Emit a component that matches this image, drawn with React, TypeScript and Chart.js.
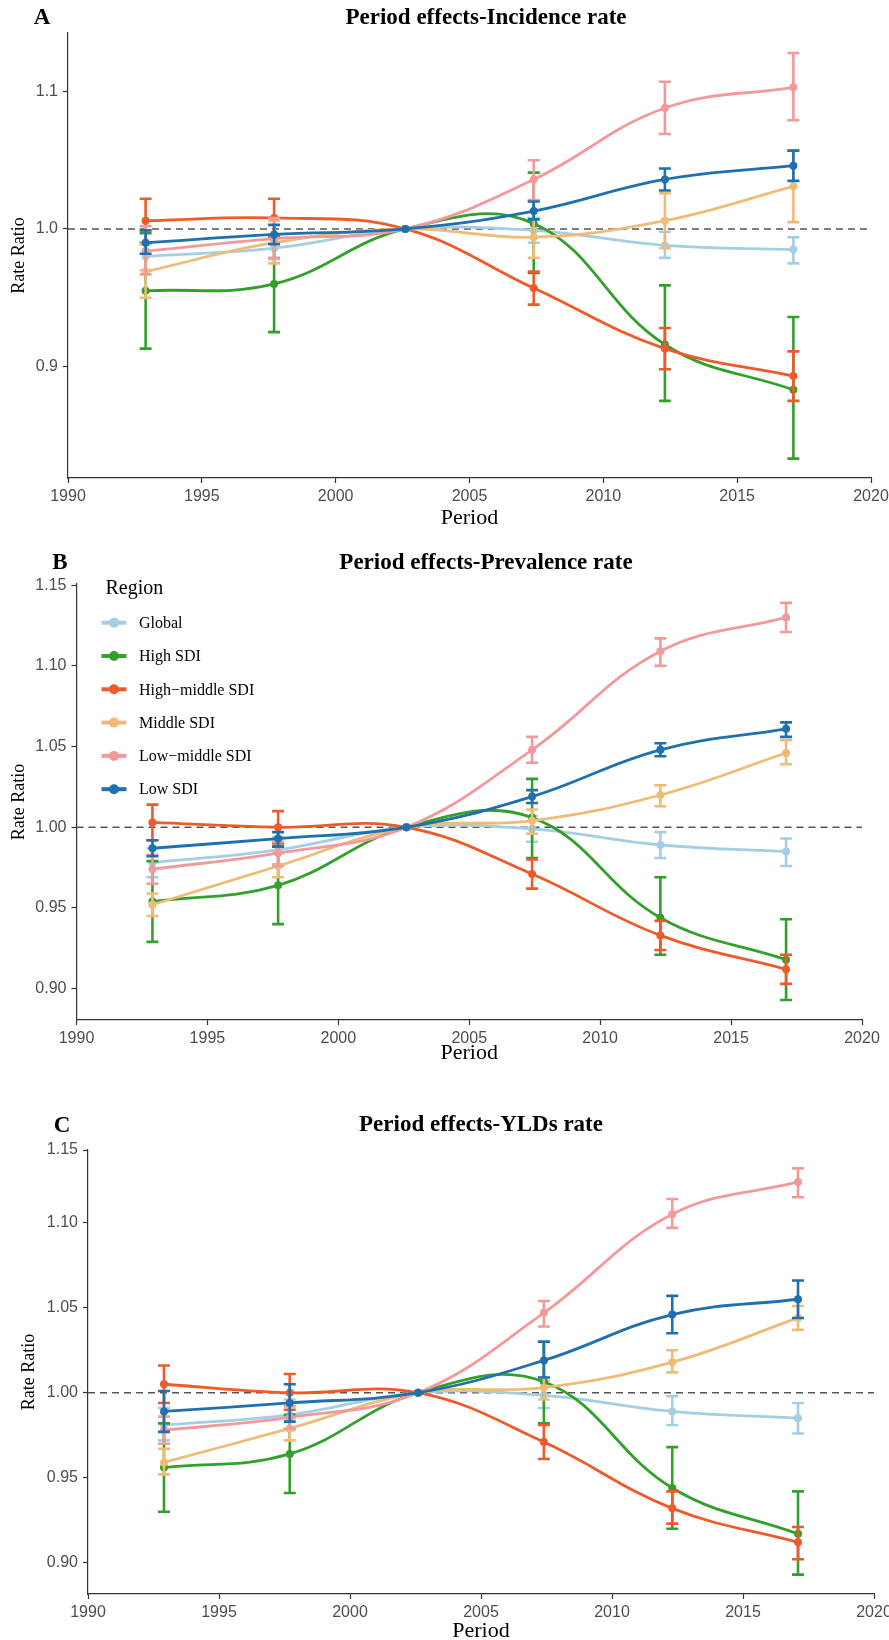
import React, { useEffect, useRef } from "react";
import { Chart, registerables } from "chart.js";

Chart.register(...registerables);

const SERIF = "'Liberation Serif', 'Times New Roman', serif";
const SANS = "'Liberation Sans', Arial, sans-serif";

// ---- shared categories ----
const periods = [1992.9, 1997.7, 2002.6, 2007.4, 2012.3, 2017.1];
const regionNames = ["Global", "High SDI", "High\u2212middle SDI", "Middle SDI", "Low\u2212middle SDI", "Low SDI"];
const regionColors = ["#A6CEE3", "#33A02C", "#EE5A2A", "#EFBC78", "#F29A9B", "#1F70AE"];
const yearTicks = [1990, 1995, 2000, 2005, 2010, 2015, 2020];
const referenceRatio = 1;

// ---- A: Incidence rate ----
const incGlobal = [0.980, 0.986, 1.000, 0.999, 0.988, 0.985];
const incGlobalLo = [0.970, 0.978, 1.000, 0.990, 0.979, 0.975];
const incGlobalHi = [0.989, 0.994, 1.000, 1.008, 0.998, 0.994];
const incHigh = [0.955, 0.960, 1.000, 1.004, 0.916, 0.883];
const incHighLo = [0.913, 0.925, 1.000, 0.968, 0.875, 0.833];
const incHighHi = [0.997, 0.995, 1.000, 1.041, 0.959, 0.936];
const incHighMid = [1.006, 1.008, 1.000, 0.957, 0.913, 0.893];
const incHighMidLo = [0.990, 0.994, 1.000, 0.945, 0.898, 0.875];
const incHighMidHi = [1.022, 1.022, 1.000, 0.969, 0.928, 0.911];
const incMid = [0.969, 0.990, 1.000, 0.994, 1.006, 1.031];
const incMidLo = [0.950, 0.975, 1.000, 0.979, 0.986, 1.005];
const incMidHi = [0.989, 1.006, 1.000, 1.008, 1.026, 1.057];
const incLowMid = [0.984, 0.993, 1.000, 1.036, 1.088, 1.103];
const incLowMidLo = [0.967, 0.979, 1.000, 1.021, 1.069, 1.079];
const incLowMidHi = [1.002, 1.008, 1.000, 1.050, 1.107, 1.128];
const incLow = [0.990, 0.996, 1.000, 1.013, 1.036, 1.046];
const incLowLo = [0.982, 0.989, 1.000, 1.007, 1.028, 1.035];
const incLowHi = [0.999, 1.003, 1.000, 1.020, 1.044, 1.057];
const incTicks = [0.9, 1.0, 1.1];
const incTickLabels = ["0.9", "1.0", "1.1"];

// ---- B: Prevalence rate ----
const prvGlobal = [0.978, 0.986, 1.000, 0.999, 0.989, 0.985];
const prvGlobalLo = [0.969, 0.977, 1.000, 0.991, 0.981, 0.976];
const prvGlobalHi = [0.987, 0.994, 1.000, 1.007, 0.997, 0.993];
const prvHigh = [0.954, 0.964, 1.000, 1.006, 0.944, 0.918];
const prvHighLo = [0.929, 0.940, 1.000, 0.981, 0.921, 0.893];
const prvHighHi = [0.979, 0.988, 1.000, 1.030, 0.969, 0.943];
const prvHighMid = [1.003, 1.000, 1.000, 0.971, 0.933, 0.912];
const prvHighMidLo = [0.992, 0.990, 1.000, 0.962, 0.924, 0.903];
const prvHighMidHi = [1.014, 1.010, 1.000, 0.980, 0.942, 0.921];
const prvMid = [0.952, 0.976, 1.000, 1.004, 1.020, 1.046];
const prvMidLo = [0.945, 0.969, 1.000, 0.996, 1.013, 1.039];
const prvMidHi = [0.959, 0.984, 1.000, 1.011, 1.026, 1.054];
const prvLowMid = [0.974, 0.984, 1.000, 1.048, 1.109, 1.130];
const prvLowMidLo = [0.965, 0.976, 1.000, 1.040, 1.100, 1.121];
const prvLowMidHi = [0.983, 0.991, 1.000, 1.056, 1.117, 1.139];
const prvLow = [0.987, 0.993, 1.000, 1.019, 1.048, 1.061];
const prvLowLo = [0.982, 0.988, 1.000, 1.015, 1.044, 1.056];
const prvLowHi = [0.992, 0.997, 1.000, 1.023, 1.052, 1.065];
const prvTicks = [0.90, 0.95, 1.00, 1.05, 1.10, 1.15];
const prvTickLabels = ["0.90", "0.95", "1.00", "1.05", "1.10", "1.15"];

// ---- C: YLDs rate ----
const yldGlobal = [0.981, 0.987, 1.000, 0.9985, 0.989, 0.985];
const yldGlobalLo = [0.972, 0.978, 1.000, 0.991, 0.981, 0.976];
const yldGlobalHi = [0.991, 0.996, 1.000, 1.007, 0.998, 0.994];
const yldHigh = [0.956, 0.964, 1.000, 1.0065, 0.944, 0.917];
const yldHighLo = [0.930, 0.941, 1.000, 0.982, 0.920, 0.893];
const yldHighHi = [0.982, 0.987, 1.000, 1.030, 0.968, 0.942];
const yldHighMid = [1.005, 1.000, 1.000, 0.971, 0.932, 0.912];
const yldHighMidLo = [0.994, 0.990, 1.000, 0.961, 0.923, 0.902];
const yldHighMidHi = [1.016, 1.011, 1.000, 0.981, 0.942, 0.921];
const yldMid = [0.959, 0.979, 1.000, 1.003, 1.018, 1.044];
const yldMidLo = [0.952, 0.972, 1.000, 0.996, 1.012, 1.037];
const yldMidHi = [0.967, 0.985, 1.000, 1.009, 1.025, 1.051];
const yldLowMid = [0.978, 0.9855, 1.000, 1.047, 1.105, 1.124];
const yldLowMidLo = [0.970, 0.979, 1.000, 1.039, 1.097, 1.115];
const yldLowMidHi = [0.986, 0.992, 1.000, 1.054, 1.114, 1.132];
const yldLow = [0.989, 0.994, 1.000, 1.019, 1.046, 1.055];
const yldLowLo = [0.977, 0.983, 1.000, 1.009, 1.035, 1.044];
const yldLowHi = [1.001, 1.005, 1.000, 1.030, 1.057, 1.066];
const yldTicks = [0.90, 0.95, 1.00, 1.05, 1.10, 1.1428];
const yldTickLabels = ["0.90", "0.95", "1.00", "1.05", "1.10", "1.15"];

type Series = { v: number[]; lo: number[]; hi: number[] };
type PanelCfg = {
  top: number; height: number;
  area: { left: number; right: number; top: number; bottom: number };
  yMin: number; yMax: number; yTicks: number[]; yLabels: string[];
  yTitlePad: number; xTitlePad: number;
  title: string; titleX: number; titleY: number;
  letter: string; letterX: number; letterY: number;
  legend: boolean;
  series: Series[];
};

const panels: PanelCfg[] = [
  {
    top: 0, height: 532,
    area: { left: 68, right: 871, top: 33, bottom: 478 },
    yMin: 0.8189, yMax: 1.1425, yTicks: incTicks, yLabels: incTickLabels,
    yTitlePad: 8, xTitlePad: 1,
    title: "Period effects-Incidence rate", titleX: 486, titleY: 18,
    letter: "A", letterX: 42, letterY: 18, legend: false,
    series: [
      { v: incGlobal, lo: incGlobalLo, hi: incGlobalHi },
      { v: incHigh, lo: incHighLo, hi: incHighHi },
      { v: incHighMid, lo: incHighMidLo, hi: incHighMidHi },
      { v: incMid, lo: incMidLo, hi: incMidHi },
      { v: incLowMid, lo: incLowMidLo, hi: incLowMidHi },
      { v: incLow, lo: incLowLo, hi: incLowHi },
    ],
  },
  {
    top: 540, height: 527,
    area: { left: 76.5, right: 862, top: 44, bottom: 480 },
    yMin: 0.8806, yMax: 1.1507, yTicks: prvTicks, yLabels: prvTickLabels,
    yTitlePad: 8, xTitlePad: 1,
    title: "Period effects-Prevalence rate", titleX: 486, titleY: 23,
    letter: "B", letterX: 60, letterY: 23, legend: true,
    series: [
      { v: prvGlobal, lo: prvGlobalLo, hi: prvGlobalHi },
      { v: prvHigh, lo: prvHighLo, hi: prvHighHi },
      { v: prvHighMid, lo: prvHighMidLo, hi: prvHighMidHi },
      { v: prvMid, lo: prvMidLo, hi: prvMidHi },
      { v: prvLowMid, lo: prvLowMidLo, hi: prvLowMidHi },
      { v: prvLow, lo: prvLowLo, hi: prvLowHi },
    ],
  },
  {
    top: 1060, height: 585,
    area: { left: 88, right: 874, top: 90, bottom: 534 },
    yMin: 0.8816, yMax: 1.1428, yTicks: yldTicks, yLabels: yldTickLabels,
    yTitlePad: 18, xTitlePad: 1,
    title: "Period effects-YLDs rate", titleX: 481, titleY: 65,
    letter: "C", letterX: 62, letterY: 66, legend: false,
    series: [
      { v: yldGlobal, lo: yldGlobalLo, hi: yldGlobalHi },
      { v: yldHigh, lo: yldHighLo, hi: yldHighHi },
      { v: yldHighMid, lo: yldHighMidLo, hi: yldHighMidHi },
      { v: yldMid, lo: yldMidLo, hi: yldMidHi },
      { v: yldLowMid, lo: yldLowMidLo, hi: yldLowMidHi },
      { v: yldLow, lo: yldLowLo, hi: yldLowHi },
    ],
  },
];

function PanelChart({ panel }: { panel: PanelCfg }) {
  const ref = useRef<HTMLCanvasElement | null>(null);

  useEffect(() => {
    const canvas = ref.current;
    if (!canvas) return;
    const W = 889;
    const H = panel.height;
    const ca = panel.area;

    const datasets: any[] = panel.series.map((s, i) => ({
      label: regionNames[i],
      data: periods.map((x, j) => ({ x, y: s.v[j] })),
      errLo: s.lo,
      errHi: s.hi,
      borderColor: regionColors[i],
      backgroundColor: regionColors[i],
      borderWidth: 2.8,
      pointRadius: 4,
      pointBorderWidth: 0,
      pointBackgroundColor: regionColors[i],
      tension: 0.4,
      fill: false,
      order: regionNames.length - i,
    }));

    const overlay = {
      id: "overlay",
      beforeDatasetsDraw(chart: any) {
        const { ctx, chartArea, scales } = chart;
        const y = scales.y.getPixelForValue(referenceRatio);
        ctx.save();
        ctx.strokeStyle = "#555555";
        ctx.lineWidth = 1.5;
        ctx.setLineDash([7, 5]);
        ctx.beginPath();
        ctx.moveTo(chartArea.left, y);
        ctx.lineTo(chartArea.right, y);
        ctx.stroke();
        ctx.restore();
      },
      afterDatasetDraw(chart: any, args: any) {
        const ds = chart.data.datasets[args.index];
        const { ctx, scales } = chart;
        ctx.save();
        ctx.strokeStyle = ds.borderColor;
        ctx.lineWidth = 2.6;
        ctx.lineCap = "butt";
        const cap = 6;
        ds.data.forEach((pt: any, j: number) => {
          const x = scales.x.getPixelForValue(pt.x);
          const yl = scales.y.getPixelForValue(ds.errLo[j]);
          const yh = scales.y.getPixelForValue(ds.errHi[j]);
          ctx.beginPath();
          ctx.moveTo(x, yl);
          ctx.lineTo(x, yh);
          ctx.moveTo(x - cap, yl);
          ctx.lineTo(x + cap, yl);
          ctx.moveTo(x - cap, yh);
          ctx.lineTo(x + cap, yh);
          ctx.stroke();
        });
        ctx.restore();
      },
      afterDraw(chart: any) {
        const { ctx } = chart;
        ctx.save();
        ctx.fillStyle = "#000";
        ctx.textBaseline = "middle";
        ctx.textAlign = "center";
        ctx.font = `bold 23px ${SERIF}`;
        ctx.fillText(panel.title, panel.titleX, panel.titleY);
        ctx.font = `bold 23px ${SERIF}`;
        ctx.fillText(panel.letter, panel.letterX, panel.letterY);
        if (panel.legend) {
          ctx.textAlign = "left";
          ctx.font = `20px ${SERIF}`;
          ctx.fillText("Region", 105.5, 49);
          ctx.font = `16px ${SERIF}`;
          chart.data.datasets.forEach((ds: any, i: number) => {
            const y = 82.7 + i * 33.3;
            ctx.strokeStyle = ds.borderColor;
            ctx.fillStyle = ds.borderColor;
            ctx.lineWidth = 4;
            ctx.beginPath();
            ctx.moveTo(101.5, y);
            ctx.lineTo(126.5, y);
            ctx.stroke();
            ctx.beginPath();
            ctx.arc(114, y, 5, 0, Math.PI * 2);
            ctx.fill();
            ctx.fillStyle = "#000";
            ctx.fillText(ds.label, 139, y + 1);
          });
        }
        ctx.restore();
      },
    };

    const axisCommon = {
      grid: { drawOnChartArea: false, drawTicks: true, tickLength: 5, tickColor: "#333333", tickWidth: 1.2, color: "#333333" },
      border: { display: true, color: "#333333", width: 1.2 },
    };

    const chart = new Chart(canvas, {
      type: "line",
      data: { datasets },
      options: {
        responsive: false,
        animation: false,
        devicePixelRatio: 1,
        layout: { padding: { left: 0, top: ca.top, right: W - ca.right, bottom: 0 } },
        plugins: {
          legend: { display: false },
          title: { display: false },
          tooltip: { enabled: false },
        },
        scales: {
          x: {
            type: "linear",
            min: 1990,
            max: 2020,
            ...axisCommon,
            afterBuildTicks: (s: any) => {
              s.ticks = yearTicks.map((v) => ({ value: v }));
            },
            afterFit: (s: any) => {
              s.height = H - ca.bottom;
              s.paddingLeft = 0;
              s.paddingRight = 0;
            },
            ticks: {
              callback: (_v: any, i: number) => String(yearTicks[i]),
              color: "#4D4D4D",
              font: { family: SANS, size: 16 },
              padding: 4,
              maxRotation: 0,
              autoSkip: false,
            },
            title: {
              display: true,
              text: "Period",
              color: "#000",
              font: { family: SERIF, size: 22 },
              padding: { top: 0, bottom: panel.xTitlePad },
            },
          },
          y: {
            type: "linear",
            min: panel.yMin,
            max: panel.yMax,
            ...axisCommon,
            afterBuildTicks: (s: any) => {
              s.ticks = panel.yTicks.map((v) => ({ value: v }));
            },
            afterFit: (s: any) => {
              s.width = ca.left;
              s.paddingTop = 0;
              s.paddingBottom = 0;
            },
            ticks: {
              callback: (_v: any, i: number) => panel.yLabels[i],
              color: "#4D4D4D",
              font: { family: SANS, size: 16 },
              padding: 5,
              autoSkip: false,
            },
            title: {
              display: true,
              text: "Rate Ratio",
              color: "#000",
              font: { family: SERIF, size: 18 },
              padding: { top: panel.yTitlePad, bottom: 0 },
            },
          },
        },
      } as any,
      plugins: [overlay as any],
    });

    return () => chart.destroy();
  }, [panel]);

  return (
    <canvas
      ref={ref}
      width={889}
      height={panel.height}
      style={{ position: "absolute", left: 0, top: panel.top, width: 889, height: panel.height }}
    />
  );
}

export default function App() {
  return (
    <div
      style={{
        position: "absolute",
        left: 0,
        top: 0,
        width: 889,
        height: 1640,
        overflow: "hidden",
        background: "#ffffff",
      }}
    >
      {panels.map((p, i) => (
        <PanelChart key={i} panel={p} />
      ))}
    </div>
  );
}
